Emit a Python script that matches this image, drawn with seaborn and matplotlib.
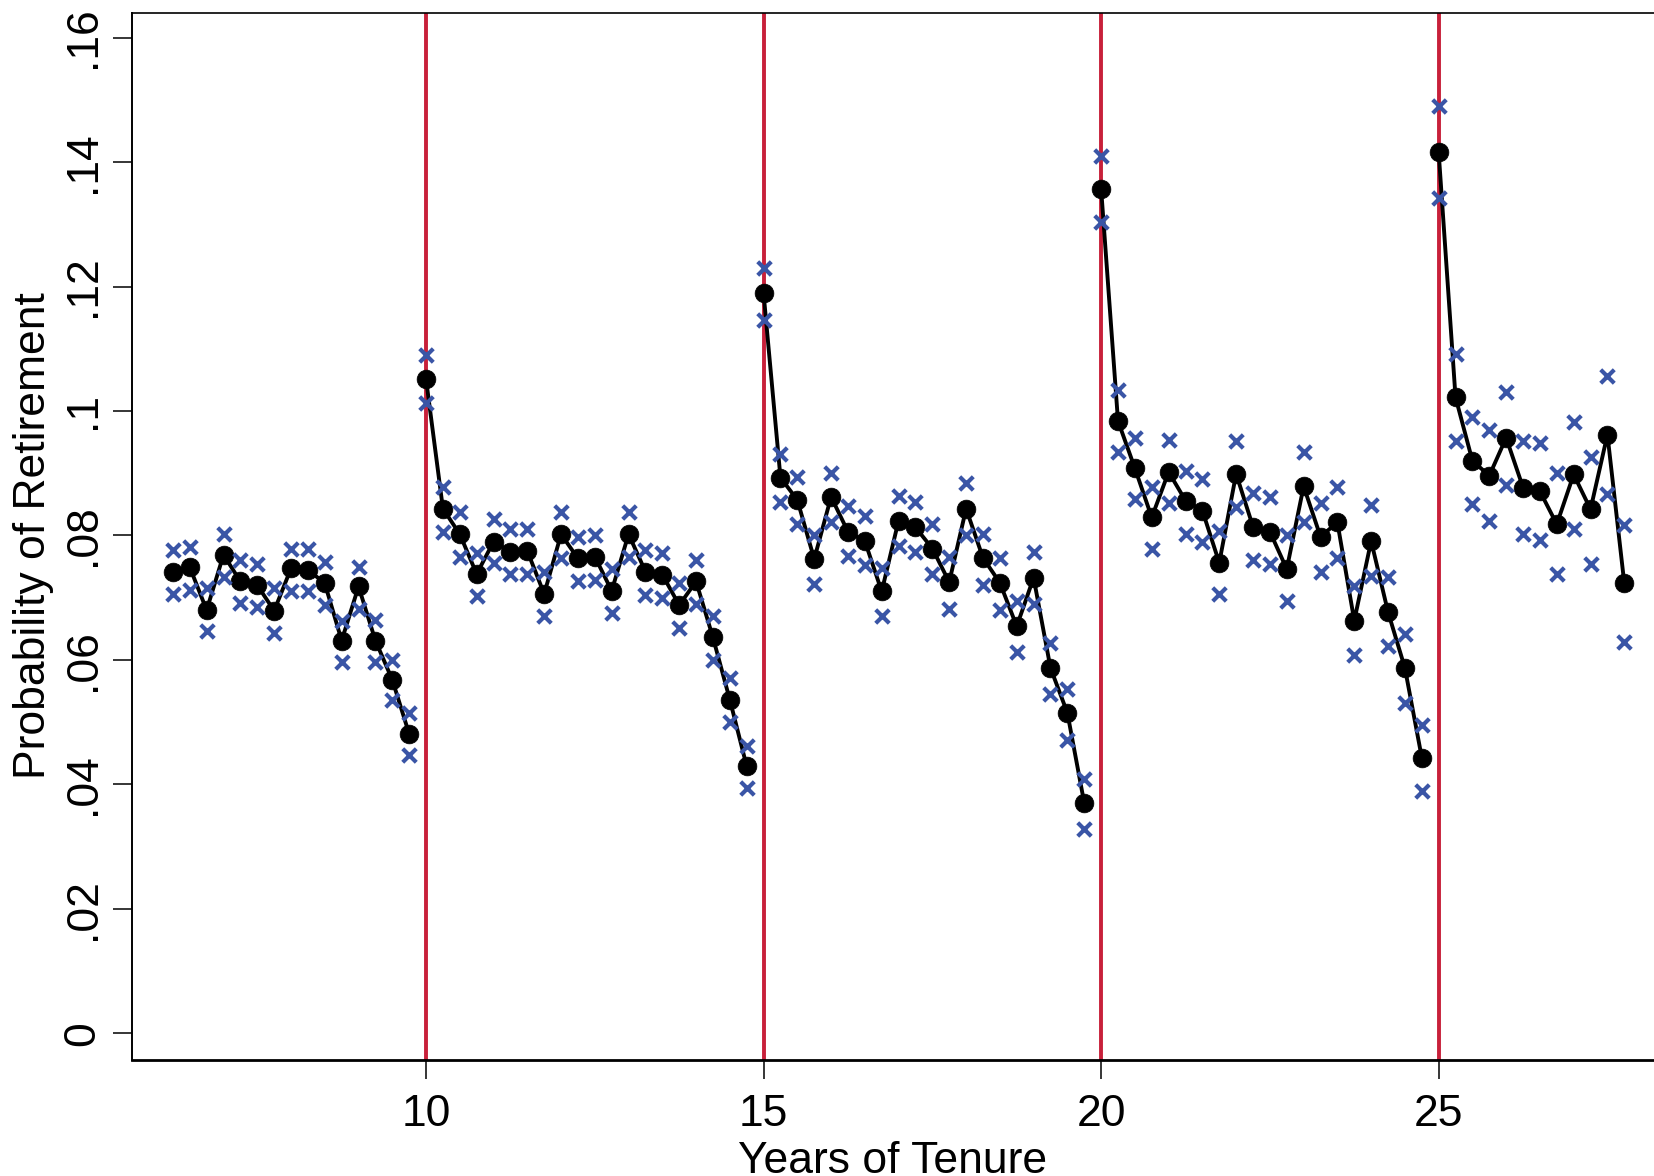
import numpy as np
import pandas as pd
import matplotlib
matplotlib.use("Agg")
import matplotlib.pyplot as plt
import seaborn as sns

# Quarterly tenure points, split at the 5-year thresholds
tenure_1 = [6.25, 6.5, 6.75, 7.0, 7.25, 7.5, 7.75, 8.0, 8.25, 8.5, 8.75, 9.0, 9.25, 9.5, 9.75]
tenure_2 = [10.0, 10.25, 10.5, 10.75, 11.0, 11.25, 11.5, 11.75, 12.0, 12.25,
            12.5, 12.75, 13.0, 13.25, 13.5, 13.75, 14.0, 14.25, 14.5, 14.75]
tenure_3 = [15.0, 15.25, 15.5, 15.75, 16.0, 16.25, 16.5, 16.75, 17.0, 17.25,
            17.5, 17.75, 18.0, 18.25, 18.5, 18.75, 19.0, 19.25, 19.5, 19.75]
tenure_4 = [20.0, 20.25, 20.5, 20.75, 21.0, 21.25, 21.5, 21.75, 22.0, 22.25,
            22.5, 22.75, 23.0, 23.25, 23.5, 23.75, 24.0, 24.25, 24.5, 24.75]
tenure_5 = [25.0, 25.25, 25.5, 25.75, 26.0, 26.25, 26.5, 26.75, 27.0, 27.25, 27.5, 27.75]

# Point estimates
prob_1 = [0.0742, 0.0749, 0.0680, 0.0769, 0.0726, 0.0720, 0.0679, 0.0747, 0.0745, 0.0723,
          0.0631, 0.0718, 0.0631, 0.0568, 0.0481]
prob_2 = [0.1051, 0.0843, 0.0802, 0.0738, 0.0790, 0.0774, 0.0775, 0.0706, 0.0802, 0.0763,
          0.0766, 0.0711, 0.0802, 0.0742, 0.0737, 0.0688, 0.0726, 0.0636, 0.0536, 0.0429]
prob_3 = [0.1189, 0.0893, 0.0857, 0.0762, 0.0862, 0.0806, 0.0791, 0.0710, 0.0824, 0.0813,
          0.0779, 0.0725, 0.0843, 0.0764, 0.0724, 0.0654, 0.0732, 0.0587, 0.0515, 0.0370]
prob_4 = [0.1357, 0.0984, 0.0908, 0.0829, 0.0902, 0.0856, 0.0840, 0.0756, 0.0899, 0.0814,
          0.0806, 0.0746, 0.0879, 0.0798, 0.0821, 0.0663, 0.0791, 0.0677, 0.0587, 0.0443]
prob_5 = [0.1416, 0.1022, 0.0920, 0.0896, 0.0957, 0.0877, 0.0871, 0.0818, 0.0898, 0.0842,
          0.0962, 0.0723]

# Upper / lower confidence bounds (the blue crosses)
hi_1 = [0.0776, 0.0782, 0.0715, 0.0802, 0.0761, 0.0754, 0.0715, 0.0779, 0.0779, 0.0758,
        0.0662, 0.0750, 0.0664, 0.0600, 0.0514]
lo_1 = [0.0706, 0.0712, 0.0647, 0.0733, 0.0691, 0.0685, 0.0644, 0.0710, 0.0710, 0.0688,
        0.0596, 0.0681, 0.0596, 0.0535, 0.0447]
hi_2 = [0.1090, 0.0878, 0.0838, 0.0772, 0.0826, 0.0810, 0.0810, 0.0742, 0.0838, 0.0798,
        0.0801, 0.0746, 0.0838, 0.0777, 0.0771, 0.0723, 0.0761, 0.0671, 0.0571, 0.0462]
lo_2 = [0.1013, 0.0806, 0.0766, 0.0702, 0.0755, 0.0738, 0.0738, 0.0671, 0.0763, 0.0726,
        0.0729, 0.0675, 0.0765, 0.0704, 0.0699, 0.0652, 0.0690, 0.0600, 0.0501, 0.0394]
hi_3 = [0.1229, 0.0931, 0.0894, 0.0800, 0.0900, 0.0847, 0.0832, 0.0748, 0.0864, 0.0854,
        0.0819, 0.0765, 0.0885, 0.0803, 0.0764, 0.0695, 0.0773, 0.0627, 0.0554, 0.0408]
lo_3 = [0.1146, 0.0853, 0.0818, 0.0722, 0.0821, 0.0767, 0.0752, 0.0670, 0.0783, 0.0773,
        0.0738, 0.0682, 0.0800, 0.0721, 0.0680, 0.0612, 0.0690, 0.0546, 0.0471, 0.0329]
hi_4 = [0.1409, 0.1033, 0.0956, 0.0878, 0.0953, 0.0904, 0.0891, 0.0807, 0.0951, 0.0868,
        0.0861, 0.0800, 0.0934, 0.0852, 0.0878, 0.0718, 0.0849, 0.0733, 0.0641, 0.0496]
lo_4 = [0.1304, 0.0934, 0.0859, 0.0779, 0.0852, 0.0803, 0.0789, 0.0706, 0.0845, 0.0761,
        0.0754, 0.0694, 0.0822, 0.0741, 0.0763, 0.0608, 0.0735, 0.0622, 0.0531, 0.0389]
hi_5 = [0.1490, 0.1091, 0.0990, 0.0969, 0.1030, 0.0951, 0.0948, 0.0901, 0.0982, 0.0926,
        0.1057, 0.0816]
lo_5 = [0.1342, 0.0951, 0.0850, 0.0823, 0.0881, 0.0802, 0.0792, 0.0738, 0.0810, 0.0754,
        0.0867, 0.0628]

thresholds = [10, 15, 20, 25]
x_ticks = [10, 15, 20, 25]
y_ticks = [0, 0.02, 0.04, 0.06, 0.08, 0.10, 0.12, 0.14, 0.16]
y_tick_labels = ["0", ".02", ".04", ".06", ".08", ".1", ".12", ".14", ".16"]

# Build one long table, with a segment id so the line breaks at each threshold
frames = []
segments = [(tenure_1, prob_1, lo_1, hi_1), (tenure_2, prob_2, lo_2, hi_2),
            (tenure_3, prob_3, lo_3, hi_3), (tenure_4, prob_4, lo_4, hi_4),
            (tenure_5, prob_5, lo_5, hi_5)]
for seg_id, (t, p, lo, hi) in enumerate(segments):
    frames.append(pd.DataFrame({"tenure": t, "prob": p, "lo": lo, "hi": hi, "segment": seg_id}))
df = pd.concat(frames, ignore_index=True)

ci = pd.concat([df[["tenure", "lo"]].rename(columns={"lo": "bound"}),
                df[["tenure", "hi"]].rename(columns={"hi": "bound"})], ignore_index=True)

sns.set_style("white")
plt.rcParams["font.family"] = ["Liberation Sans", "DejaVu Sans"]
plt.rcParams["text.color"] = "black"
plt.rcParams["axes.labelcolor"] = "black"
plt.rcParams["xtick.color"] = "black"
plt.rcParams["ytick.color"] = "black"

red = "#C8203A"
blue = "#3A55A6"

fig = plt.figure(figsize=(16.54, 11.76), dpi=100)
ax = fig.add_axes([0.0798, 0.0986, 0.9202, 0.8906])

for t in thresholds:
    ax.axvline(t, color=red, linewidth=2.8, zorder=1)

sns.lineplot(data=df, x="tenure", y="prob", units="segment", estimator=None,
             color="black", linewidth=2.8, marker="o", markersize=13.5,
             markeredgecolor="black", markeredgewidth=0.5, ax=ax, zorder=3)

sns.scatterplot(data=ci, x="tenure", y="bound", marker="x", color=blue,
                s=95, linewidth=3.0, ax=ax, zorder=4)

ax.set_xlim(5.644, 28.19)
ax.set_ylim(-0.0043, 0.164)
ax.set_xticks(x_ticks)
ax.set_xticklabels([str(v) for v in x_ticks], fontsize=32)
ax.set_yticks(y_ticks)
ax.set_yticklabels(y_tick_labels, fontsize=32, rotation=90, va="center")

ax.tick_params(axis="both", direction="out", length=14, width=1.1, color="black", labelcolor="black")
ax.tick_params(axis="x", pad=10.5)
ax.tick_params(axis="y", pad=6.5)
ax.tick_params(axis="both", which="both", left=True, bottom=True)

ax.set_xlabel("Years of Tenure", fontsize=32, color="black")
ax.set_ylabel("Probability of Retirement", fontsize=32, color="black")
ax.xaxis.set_label_coords(0.5, -0.077)
ax.yaxis.set_label_coords(-0.0512, 0.501)

for side in ["left", "bottom", "top"]:
    ax.spines[side].set_color("black")
ax.spines["left"].set_linewidth(1.4)
ax.spines["bottom"].set_linewidth(2.0)
ax.spines["top"].set_linewidth(1.2)
ax.spines["right"].set_visible(False)

fig.savefig("out.png", dpi=100)
